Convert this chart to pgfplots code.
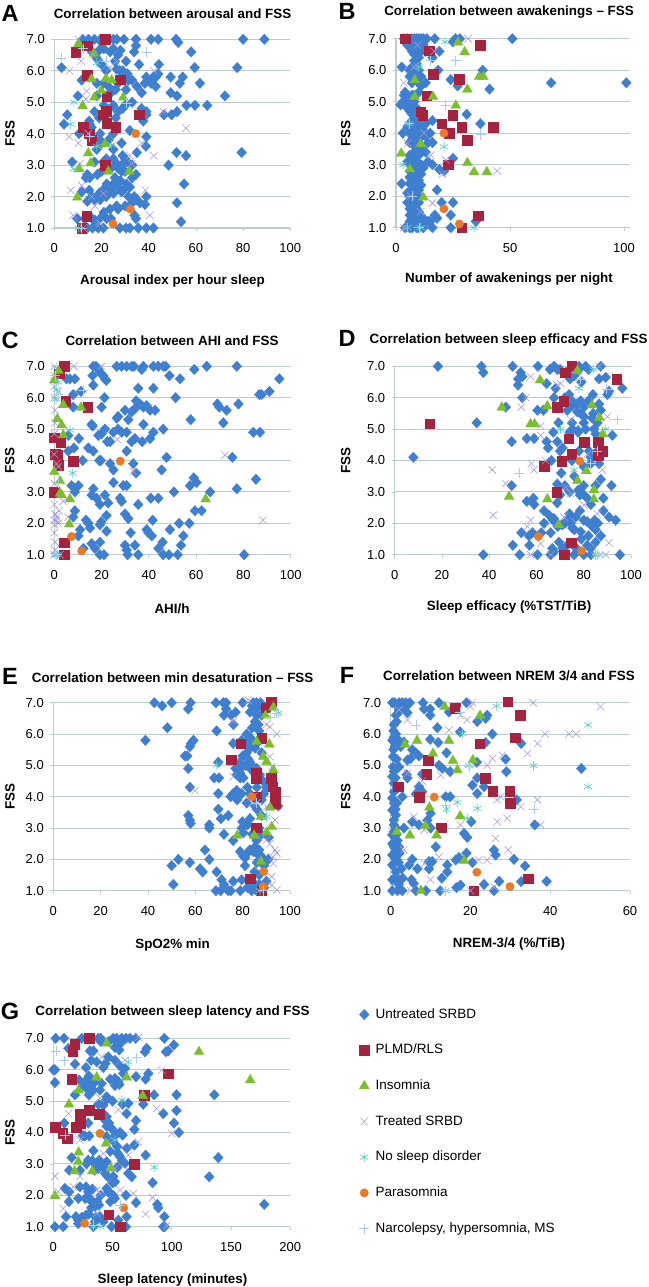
\documentclass[border=0pt]{standalone}
\usepackage{pgfplots}
\pgfplotsset{compat=1.18}
\usepackage{fontspec}
\setmainfont{Liberation Sans}

\definecolor{cblue}{HTML}{3F7FD0}
\definecolor{cred}{HTML}{A5233F}
\definecolor{cgreen}{HTML}{7CBF2C}
\definecolor{clil}{HTML}{A898DC}
\definecolor{ctur}{HTML}{62CDC4}
\definecolor{corg}{HTML}{E87A2A}
\definecolor{cplus}{HTML}{A9CBF0}
\definecolor{cgrid}{HTML}{BBCDD0}

\pgfplotsset{
  every axis title shift=0pt,
  fss/.style={
    scale only axis, clip=false,
    ymin=1, ymax=7, ytick={1,2,3,4,5,6,7},
    axis x line*=bottom, axis y line*=left,
    axis line style={-, draw=cgrid, line width=1.1pt},
    ymajorgrids, grid style={cgrid, line width=1pt},
    tick align=outside, major tick length=3pt,
    tick style={draw=cgrid, line width=.8pt},
    /pgf/number format/assume math mode=true,
    tick label style={font=\fontsize{13}{15}\selectfont},
    xticklabel style={yshift=-9pt},
    yticklabel style={xshift=-3pt, /pgf/number format/.cd, fixed, fixed zerofill, precision=1},
    title style={font=\fontsize{13.4}{15}\bfseries\selectfont, anchor=center},
    xlabel style={font=\fontsize{13.4}{15}\bfseries\selectfont, anchor=center},
    ylabel style={font=\fontsize{13.4}{15}\bfseries\selectfont, anchor=center},
    ylabel={FSS},
  },
  sblue/.style={only marks, mark=diamond*, mark size=5.3pt, mark options={xscale=1.25, draw=cblue, fill=cblue, line width=.2pt}},
  sred/.style={only marks, mark=square*, mark size=4.8pt, mark options={draw=cred, fill=cred, line width=.2pt}},
  sgreen/.style={only marks, mark=triangle*, mark size=5.8pt, mark options={draw=cgreen, fill=cgreen, line width=.2pt}},
  sx/.style={only marks, mark=x, mark size=5.2pt, mark options={draw=clil, line width=.55pt}},
  sast/.style={only marks, mark=asterisk, mark size=4.6pt, mark options={draw=ctur, line width=.7pt}},
  sorg/.style={only marks, mark=*, mark size=4.2pt, mark options={draw=corg, fill=corg}},
  splus/.style={only marks, mark=+, mark size=5pt, mark options={draw=cplus, line width=.6pt}},
}
\newcommand{\panelletter}[3]{\node[font=\fontsize{23.5}{25}\bfseries\selectfont, anchor=center] at (#1pt,-#2pt) {#3};}

\begin{document}
\begin{tikzpicture}
\path[use as bounding box] (0pt,0pt) rectangle (648pt,-1287pt);

% A
\panelletter{10}{13}{A}
\begin{axis}[fss, at={(54.3pt,-228pt)}, anchor=south west, width=236pt, height=188.7pt,
  xmin=0, xmax=100, xtick={0,20,40,60,80,100},
  title={Correlation between arousal and FSS}, title style={at={(axis description cs:.501,1.138)}},
  xlabel={Arousal index per hour sleep}, xlabel style={at={(axis description cs:.501,-.281)}},
  ylabel style={at={(axis description cs:-.188,.5)}}]
\addplot[sblue] coordinates {(14,1)(13,1.3)(16,1.3)(24,1.3)(21,1.5)(27,1.6)(30,1.7)(33,1.8)(35,1.9)(17,1.9)(22,2)(19,2.1)(16,2)(24,2.2)(27,2.3)(32,2.3)(25,2.4)(28,2.5)(33,2.6)(15,2.6)(30,2.8)(27,2.9)(20,2.8)(24,2.9)(17,3.1)(33,3)(22,3.2)(31,3.1)(35,3.4)(25,3.5)(18,3.5)(20,3.7)(23,3.8)(15,4.3)(19,4.5)(26,4.5)(29,4.8)(17,4.7)(27,4.7)(21,4.9)(37,4.8)(33,5)(18,5.2)(24,5.3)(23,5.5)(27,5.6)(33,5.7)(35,5.5)(22,6)(20,6.2)(18,6.4)(25,6.7)(21,6.7)(16,6.6)(15,6.9)(20,6.9)(29,6)(31,5.9)(39,5.8)(41,5.6)(43,5.5)(12,7)(14.5,7)(17,7)(19.5,7)(23,7)(25,7)(26.5,7)(29.5,7)(34.6,7)(41,7)(44,7)(51.6,7)(80,7)(89,7)(52.5,6.9)(33.8,6.6)(34.6,6.8)(58,6.6)(19,6.65)(23.6,6.6)(28,6.65)(27,6.5)(25.7,6.3)(30.4,6.3)(44.3,6.2)(35.9,6.2)(3.1,6.1)(59.5,6.1)(77.5,6.1)(27.8,6)(26.4,6.05)(42,5.8)(44,5.9)(40.5,5.7)(43,5.8)(38.4,5.6)(49.3,5.8)(54.4,5.8)(53.2,5.6)(61.7,5.6)(31.4,5.7)(11.6,5.7)(18,5.6)(20.8,5.6)(26,5.4)(30.4,5.4)(37,5.3)(49.3,5.3)(52,5.2)(72.3,5.2)(10,5.2)(22.2,5.2)(56,4.9)(59.6,4.9)(64.8,4.9)(30,4.9)(25,4.9)(22.9,4.75)(46.5,4.6)(49.7,4.6)(52,4.7)(39,4.7)(39,4.6)(37.7,4.4)(5.5,4.6)(4.1,4.3)(14.8,4.4)(15.8,4.2)(32,4.1)(25,4)(10.5,4)(19.4,4)(39,3.9)(19.4,3.8)(38.8,3.6)(28.5,3.7)(79.4,3.4)(51.8,3.4)(55.8,3.3)(48.4,3)(7.6,3.1)(29,3.3)(30,3.2)(25,3.2)(20.8,3.1)(28.5,3)(26.4,3.05)(14,2.7)(13.4,2.6)(18.2,2.7)(34.6,2.7)(28.5,2.8)(25.7,2.6)(22.2,2.4)(30.6,2.4)(29.9,2.25)(55,2.4)(11.6,2.15)(14.8,2.2)(20.5,2.2)(25,2.1)(28.5,2.15)(31.4,2)(33.9,2)(39,2)(14,1.85)(19.4,1.9)(52,1.8)(36.3,1.8)(38.4,1.75)(26.4,1.7)(23.6,1.6)(34,1.4)(34.6,1.3)(53.7,1.2)(9.7,1.3)(19.4,1.3)(22.2,1.3)(17.2,1.25)(16.2,1)(18.6,1)(20.8,1)(27.8,1)(30.4,1)(32,1)(35.6,1)(39,1)(42,1)(12.3,1)};
\addplot[sred] coordinates {(9,6.6)(13.8,6.8)(21.5,7)(14,5.87)(28,5.72)(22.2,5.18)(21.9,4.72)(20.8,4.6)(35.9,4.6)(22.2,4.33)(26,4.2)(12.1,4.2)(14.7,4)(15.8,3.8)(21.6,3)(13.7,1.38)(11.6,1)};
\addplot[sgreen] coordinates {(10.2,6.85)(16.7,6.55)(15.8,5.73)(21.9,5.75)(24.3,5.7)(19.8,5.37)(29.2,5.15)(17,5.15)(12,4.88)(21.5,3.67)(14.4,3.38)(15.4,3.06)(10.5,2.88)(22.9,2.8)(31.8,2.8)(9.7,1.97)};
\addplot[sx] coordinates {(10.2,7)(6.4,6)(11.3,6.3)(13.7,5.35)(13.4,5.1)(42.2,6)(46.2,4.7)(55.8,4.17)(6.4,3.9)(10.2,3.7)(42.2,3.3)(10.9,3.05)(32,3.3)(32.8,3.05)(37,3.7)(38.5,2.2)(7,2.2)(11.6,2.35)(15.8,2)(17.2,1.7)(40.5,1.4)(8,1.4)(19.4,1.15)(12.3,1)(20.8,2.1)(26.4,6.3)(16.5,6.5)(23.6,6.1)(14.4,4)};
\addplot[sast] coordinates {(7,4.3)(8.3,5)(18,6.25)(24.3,3.65)(18,3.6)(8.3,2.88)(10.2,1)};
\addplot[sorg] coordinates {(34.5,4)(32.2,1.6)(24.9,1.13)};
\addplot[splus] coordinates {(2.8,6.4)(39.1,6.6)(12.3,6.7)(21.9,6.3)(30.6,4.97)(15,3.9)(11.6,1)};
\end{axis}

% B
\panelletter{347}{11}{B}
\begin{axis}[fss, at={(396pt,-227.7pt)}, anchor=south west, width=234pt, height=189pt,
  xmin=0, xmax=102.6, xtick={0,50,100},
  title={Correlation between awakenings -- FSS}, title style={at={(axis description cs:.483,1.141)}},
  xlabel={Number of awakenings per night}, xlabel style={at={(axis description cs:.483,-.273)}},
  ylabel style={at={(axis description cs:-.215,.5)}}]
\addplot[sblue] coordinates {(4,6.9)(6,6.9)(9,6.9)(12,6.8)(5,6.8)(10,6.7)(7,6.6)(9,6.5)(8,6.5)(10,6.4)(9,6.1)(8,6)(6,6)(9,5.7)(7,5.6)(11,5.5)(4,5.3)(5,5.2)(7,5.2)(8,5.2)(5,5)(3,5)(6,4.9)(9,4.8)(6,4.7)(9,4.6)(10,4.5)(7,4.4)(11,4.3)(5,4.2)(7,4.1)(11,3.9)(13,3.9)(7,3.8)(14,3.7)(8,3.6)(10,3.5)(8,3.4)(9,3.1)(7,3)(11,3)(12,2.9)(8,2.8)(11,2.7)(7,2.6)(8,2.4)(10,2.2)(9,2.1)(7,2)(9,1.9)(6,1.8)(8,1.7)(6,1.6)(7,1.5)(8,1.5)(10,1.5)(7,1.3)(9,1.3)(11,1.3)(7,1.1)(10,1)(14,1.2)(6,1)(17,1.4)(3.5,7)(5,7)(7,7)(8,7)(9,7)(10,7)(11,7)(12,7)(13.5,7)(17,7)(26,7)(51,7)(28,7)(25,6.9)(10,6.85)(7,6.8)(8,6.7)(11,6.6)(13,6.6)(19,6.6)(16,6.4)(8,6.3)(9,6.2)(7,6.1)(2.5,6.1)(18.5,6)(38,6)(10,6)(8,5.9)(6,5.8)(11,5.8)(24,5.7)(27,5.7)(10,5.6)(13,5.6)(27,5.5)(68,5.6)(101,5.6)(41,5.4)(10,5.3)(3.5,5.2)(6,5.1)(8,5)(2,4.9)(4,4.9)(7,4.9)(5,4.8)(8,4.7)(10,4.7)(7,4.6)(31,4.6)(12,4.5)(9,4.4)(16,4.4)(37,4.3)(6,4.3)(13,4.3)(8,4.2)(10,4.1)(12,4.1)(3,4)(6,4)(9,4)(12,4)(15,4)(23,4)(8,3.9)(10,3.8)(16,3.7)(6,3.7)(9,3.6)(11,3.5)(13,3.4)(6,3.3)(8,3.2)(10,3.3)(25,3.2)(5,3.1)(8,3)(14,3.1)(16,3)(7,2.9)(19,2.85)(21,2.8)(6,2.8)(10,2.8)(9,2.7)(6,2.6)(10,2.5)(8,2.5)(2.5,2.4)(6,2.4)(9,2.3)(11,2.35)(7,2.2)(18,2.2)(5,2.1)(8,2.1)(10,2)(6,2)(8,1.9)(10,1.8)(5,1.8)(7,1.7)(25,1.8)(20,1.8)(9,1.6)(24,1.4)(6,1.4)(8,1.3)(10,1.4)(12,1.3)(18,1.3)(15,1.2)(35,1.2)(6,1.2)(9,1.1)(11,1.1)(7,1)(9,1)(12,1)(16,1)(24,1)(4,1)(11,1.2)};
\addplot[sred] coordinates {(4.1,7)(14.6,6.62)(36.8,6.8)(16.2,5.88)(27.6,5.72)(13.5,5.2)(10.8,4.68)(11.7,4.58)(24.9,4.58)(20,4.31)(28.7,4.2)(42.7,4.19)(23.2,4)(31.3,3.78)(22.8,3)(36,1.38)(28.8,1)};
\addplot[sgreen] coordinates {(27.2,6.88)(30.1,6.58)(8.2,5.69)(36.4,5.79)(38.3,5.79)(31.3,5.39)(8.2,5.16)(16.2,5.16)(26.2,4.88)(10.8,3.66)(2.3,3.36)(31.3,3.06)(6.1,2.86)(34.2,2.77)(39.8,2.77)(12,1.96)};
\addplot[sx] coordinates {(31.6,7)(44.4,2.8)(20.3,2.7)(16,1.78)(10.8,1.5)(3.5,1)(15.2,3.3)(21.8,3.15)(5,3.68)(3.5,5.6)(7.9,6.1)(9.4,6.8)(16.7,6.6)(6.4,2)(12.3,4)};
\addplot[sast] coordinates {(21.5,6.9)(21,3.57)(3.2,3)(34.2,1)(5,1)(10.8,1)(5.7,4.3)(10,6.1)};
\addplot[sorg] coordinates {(21,4)(21,1.6)(27.8,1.12)};
\addplot[splus] coordinates {(26.2,6.3)(21.8,4.9)(37.1,3.95)(7.2,2)(15.2,6.3)(5.7,4.3)(10,1)};
\end{axis}

% C
\panelletter{10}{340}{C}
\begin{axis}[fss, at={(54.3pt,-554.7pt)}, anchor=south west, width=236.4pt, height=188.4pt,
  xmin=0, xmax=100, xtick={0,20,40,60,80,100},
  title={Correlation between AHI and FSS}, title style={at={(axis description cs:.498,1.136)}},
  xlabel={AHI/h}, xlabel style={at={(axis description cs:.498,-.285)}},
  ylabel style={at={(axis description cs:-.188,.5)}}]
\addplot[sblue] coordinates {(16.5,7)(17.6,7)(26.4,7)(28.5,7)(30.6,7)(32.7,7)(33.7,7)(37.7,7)(41.9,7)(44,7)(46.1,7)(47.1,7)(64.5,7)(77.2,7)(37,6.9)(59.2,6.9)(18.6,6.9)(19.3,6.8)(20.7,6.7)(16.2,6.7)(21.4,6.6)(22,6.55)(48.7,6.7)(53.2,6.6)(95.2,6.6)(16.5,6.4)(35.5,6.3)(41.9,6.3)(5.2,6.6)(6.6,6.6)(8.7,6.6)(11.3,6.2)(8,6.1)(91,6.2)(86.7,6.1)(87.7,6.1)(21.2,6)(51.3,6)(69,5.8)(69.8,5.7)(77.9,5.8)(72.9,5.6)(34.6,5.9)(36.2,5.8)(39,5.75)(37.7,5.7)(34.1,5.65)(29.9,5.6)(32.7,5.55)(40.5,5.6)(42.6,5.6)(20,5.7)(8,5.7)(27,5.4)(26.4,5.35)(31.3,5.3)(57.7,5.3)(71.5,5.2)(15.8,5.15)(16.2,5.1)(37.7,5.15)(21.4,5)(20,4.85)(18.6,4.8)(25,4.9)(27,5)(28.5,4.9)(30.6,4.9)(46.1,5)(41.9,4.9)(84.2,4.9)(87,4.9)(10.4,4.7)(5.9,4.8)(34.1,4.7)(32.7,4.6)(40.5,4.7)(37.2,4.6)(22.4,4.6)(23.6,4.6)(8.3,4.4)(14.4,4.4)(16.5,4.3)(30.6,4.3)(5.9,4.3)(47.5,4.1)(75.3,4.1)(12,4)(19,4)(19.7,4)(23.6,3.9)(33.4,3.9)(25,3.7)(34.6,3.6)(45.4,3.7)(85.3,3.4)(59,3.45)(60.2,3.3)(25,3.3)(29.2,3.2)(30.6,3.2)(57.4,3.2)(10.2,3.2)(7.3,3.2)(16.5,3.1)(77.2,3.1)(65.9,3)(50.6,3)(8.7,3)(15.8,2.9)(21.4,2.9)(17.9,2.8)(27.8,2.8)(40.8,2.8)(44,2.8)(28.5,2.7)(22.8,2.65)(35.5,2.6)(19.3,2.6)(8.7,2.4)(59.5,2.4)(62.3,2.4)(29.9,2.3)(22.1,2.25)(8,2.2)(31.3,2.15)(13.4,2.1)(41.6,2.1)(19.9,2.05)(57.1,2)(52.8,2)(14.4,2)(19.3,1.95)(15.1,1.85)(48.9,1.8)(39.1,1.8)(22.1,1.75)(32.3,1.7)(39.8,1.7)(54.6,1.6)(41.2,1.6)(10.9,1.8)(45.8,1.4)(19.3,1.4)(15.8,1.35)(29.9,1.3)(53.6,1.3)(34.1,1.3)(10.2,1.6)(44,1.2)(17.2,1.2)(30.6,1.15)(12.3,1.2)(19.3,1)(21,1)(31,1)(35.5,1)(46.1,1)(48.5,1)(52.2,1)(80.3,1)};
\addplot[sred] coordinates {(4.2,7)(2.1,6.77)(4.8,5.9)(14.1,5.71)(0,4.73)(2.7,4.58)(0.3,4.2)(1.4,4.17)(8,3.98)(1.7,3.85)(0,3)(4.2,1.38)(4.2,1)};
\addplot[sgreen] coordinates {(1.7,6.86)(0,6.56)(3.8,5.77)(11.3,5.69)(1.3,5.32)(3.1,5.13)(3.8,4.81)(0,3.64)(2.4,3.34)(2.4,2.95)(6.6,2.77)(64,2.77)(6.3,1.97)(3.1,2.9)};
\addplot[sx] coordinates {(0,7)(8.3,7)(20,7)(26.7,4.67)(72.2,4.17)(88.2,2.1)(33.4,3.65)(0,6)(0.3,5.6)(0.3,5.2)(0,3.27)(0.3,2.3)(0,2.1)(1,2.1)(0,1.95)(1.7,2)(0.3,1.4)(0.3,1.15)(0,1)(2.4,1)(3.8,2.7)(1,3.9)(1.7,3.8)(0,6.7)(2.1,2.4)(0,2.6)(1,2.2)(0,1.7)(5.9,2.2)(1.7,6.2)(0,6.35)(0,4.85)(0,4.2)};
\addplot[sast] coordinates {(7.8,3.6)(6.6,4.97)(1,6.25)(0.7,5.95)(1,1)(0.3,1)(1.7,6.5)};
\addplot[sorg] coordinates {(27.9,3.98)(7.3,1.58)(11.6,1.12)};
\addplot[splus] coordinates {(12.3,6.25)(1.7,6.1)(0.3,6.7)(1,1)(1.7,3.27)};
\end{axis}

% D
\panelletter{347}{338}{D}
\begin{axis}[fss, at={(394.7pt,-554.7pt)}, anchor=south west, width=236.3pt, height=188.4pt,
  xmin=0, xmax=100, xtick={0,20,40,60,80,100},
  title={Correlation between sleep efficacy and FSS}, title style={at={(axis description cs:.482,1.139)}},
  xlabel={Sleep efficacy (\%TST/TiB)}, xlabel style={at={(axis description cs:.484,-.279)}},
  ylabel style={at={(axis description cs:-.207,.5)}}]
\addplot[sblue] coordinates {(70,6.9)(74,6.9)(78,6.9)(82,6.9)(76,6.7)(79,6.5)(72,6)(75,5.9)(82,5.9)(73,5.6)(84,5.5)(75,5.2)(80,5.2)(74,4.9)(71,4.4)(78,4.3)(83,4.1)(75,4)(80,3.8)(76,3.5)(72,3.2)(80,3.2)(74,3)(70,2.9)(83,2.6)(74,2.3)(80,2.1)(72,2)(69,1.9)(76,1.8)(79,1.5)(82,1.6)(73,1.3)(77,1.2)(85,1.4)(71,1.2)(86,2)(67,2.1)(62,1.7)(66,1.7)(18.3,7)(36.7,7)(37.5,6.8)(49.9,7)(60.6,7)(67.4,7)(75.2,7)(78,7)(80.8,7)(87.2,7)(65.7,6.9)(68.8,6.9)(72.4,6.8)(53.3,6.8)(54,6.67)(52.3,6.6)(52.2,6.4)(89.3,6.65)(86.5,6.6)(74.2,6.6)(96.3,6.3)(64.3,6.45)(68.1,6.3)(90.7,6.2)(90,6.1)(73.8,6.1)(83.9,6.1)(54,6)(67.4,6)(78.7,5.9)(77,5.8)(86.5,5.8)(75.2,5.75)(80.1,5.7)(47,5.7)(60.4,5.6)(62.9,5.6)(87.2,5.6)(77.3,5.55)(78.7,5.5)(80.1,5.4)(83.6,5.35)(69.3,5.2)(34.7,5.2)(85.8,5.2)(84.3,5)(75.2,5)(77.6,4.95)(80.8,5)(77.6,4.9)(67.1,4.9)(85,4.85)(92.1,4.8)(55.9,4.7)(59,4.7)(49.5,4.6)(64.3,4.6)(68.8,4.6)(64.9,4.4)(85.8,4.3)(70,4.3)(82.2,4.3)(7.9,4.1)(66.3,4)(86.5,3.9)(82.9,3.9)(70.5,3.6)(87.2,3.4)(68.8,3.25)(85,3.2)(49.5,3.2)(91.7,3.2)(77.6,3.05)(79.4,2.95)(58.7,2.8)(78.4,2.9)(88.3,2.8)(55.9,2.7)(81.5,2.8)(59,2.6)(68.8,2.65)(78.4,2.4)(63.2,2.4)(88.3,2.4)(65.4,2.25)(76.6,2.2)(90.7,2.2)(93.5,2.1)(67.4,2.15)(84.6,2.1)(73.1,2.1)(81.5,2.05)(63.2,2)(74.5,2)(83.6,1.9)(70.9,1.95)(75.2,1.85)(85,1.8)(78.7,1.73)(53.6,1.7)(58.3,1.7)(87.2,1.6)(56.8,1.6)(69.5,1.4)(57,1.3)(50,1.3)(81.5,1.3)(66.7,1.2)(76.2,1.25)(82.9,1.2)(67.4,1.1)(37.5,1)(52.9,1)(60.4,1)(95.3,1)(75.9,1)(80,1)(83,1)(66,1)};
\addplot[sred] coordinates {(74.8,7.02)(72.2,6.8)(93.9,6.6)(71.4,5.9)(68.8,5.7)(14.7,5.18)(73.6,4.7)(80.1,4.58)(86,4.58)(88,4.3)(86,4.17)(74.8,4.2)(70.7,3.98)(63.2,3.82)(68.5,3)(74.6,1.39)(71.8,1)};
\addplot[sgreen] coordinates {(61.5,6.56)(77.3,6.86)(45.3,5.69)(64.6,5.73)(83.4,5.76)(86.6,5.36)(57.5,5.16)(59.2,5.16)(88,4.84)(81.1,3.67)(77.3,3.36)(84.3,3.06)(84.3,2.77)(64.6,2.77)(48.4,2.85)(69.4,1.95)};
\addplot[sx] coordinates {(86.5,7)(57.5,6.67)(70.2,6.45)(55.5,6)(53.6,5.7)(61.7,5.1)(41.3,3.7)(41.7,2.26)(47,3.27)(57.8,3.9)(59,3.7)(63.9,4)(90,5.4)(68.8,6.4)(74.5,5.3)(61.8,4.8)(56.1,1.9)(57.5,2.1)(90.7,1.38)(89.3,1)(87.9,3.7)(72.4,3.15)(74.5,2.95)(80.1,2.58)(57.5,1)(66.1,1)(61.8,1.35)(71.6,2.2)(85.8,2.3)(81.5,4.2)};
\addplot[sast] coordinates {(78,6.3)(84,6.9)(70.2,5)(85,1)(86.5,1)(75.9,3.7)(89.3,5)};
\addplot[sorg] coordinates {(78.3,3.98)(60.8,1.58)(79.1,1.12)};
\addplot[splus] coordinates {(94.2,5.3)(52.6,3.6)(78.7,6.6)(89.7,6.27)(85.8,4.3)(82.9,3.9)(85.8,1)};
\end{axis}

% E
\panelletter{10}{676}{E}
\begin{axis}[fss, at={(53.3pt,-890.7pt)}, anchor=south west, width=236.7pt, height=188pt,
  xmin=0, xmax=100, xtick={0,20,40,60,80,100},
  title={Correlation between min desaturation -- FSS}, title style={at={(axis description cs:.504,1.135)}},
  xlabel={SpO2\% min}, xlabel style={at={(axis description cs:.504,-.288)}},
  ylabel style={at={(axis description cs:-.183,.5)}}]
\addplot[sblue] coordinates {(84,6.9)(86,6.8)(88,6.6)(84,6.2)(87,6.1)(84,5.8)(86,5.7)(88,5.4)(80,5.3)(84,5)(86,4.9)(77,4.9)(79,4.6)(86,4.3)(89,4.1)(83,4.1)(86,3.6)(88,3.4)(82,3.1)(87,3)(88,2.8)(84,2.8)(83,2.3)(87,2.3)(82,2.2)(86,1.9)(89,1.8)(85,1.6)(87,1.5)(84,1.3)(87,1.2)(89,1.1)(82,1.1)(86,1.1)(88,3.9)(90,4.3)(89,2)(91,2.7)(42.7,7)(46,6.9)(50,7)(58,7)(57,6.8)(48.2,6.2)(38.9,5.8)(59.2,5.8)(69,6.1)(68.7,7)(71.8,7)(73,7)(80,7)(84.5,7)(85.9,7)(87.6,7)(73,6.8)(72.1,6.6)(75.1,6.6)(77,6.7)(76.1,6.3)(83.1,6.7)(85.9,6.6)(85.2,6.4)(86.6,6.3)(81.7,6)(83.1,5.9)(79.6,5.8)(76,5.7)(81.7,5.7)(83.1,5.55)(85.2,5.55)(57.7,5.6)(58.2,5.7)(55.6,5.3)(56.6,5.3)(69.7,5.1)(81.7,5.4)(82.4,5.2)(83.1,5.1)(78.9,5.1)(57,4.9)(78.2,5)(79.2,4.9)(81.4,5)(83.8,4.85)(77.5,4.7)(78.9,4.75)(68,4.6)(70,4.6)(80.3,4.6)(88.7,4.5)(82,4.3)(57.7,4.3)(87.3,4.7)(69.7,4.1)(77.5,4.2)(74.9,4)(79.6,4.1)(76,4.1)(77.7,3.9)(81.7,3.8)(85.2,3.7)(95,3.7)(69.7,3.6)(73.9,3.4)(57,3.4)(70.8,3.3)(57.7,3.25)(58,3.15)(83.1,3.3)(79.9,3.2)(65.9,3.1)(65.9,3)(72.1,2.8)(79.6,3)(76,2.6)(80.3,2.85)(64.1,2.3)(85.9,2.6)(85.2,2.4)(84.5,2.25)(78.9,2.25)(80.3,2.1)(85.9,2.2)(81,2.05)(87.3,2.15)(65.9,2)(52.8,2)(50,1.8)(57.7,1.9)(81,1.8)(62,1.7)(63.1,1.6)(69,1.6)(90.8,2)(71.1,1.35)(76,1.3)(79.6,1.35)(83.1,1.25)(50.7,1.2)(72.1,1.2)(68.7,1)(70.7,1)(73.9,1)(75,1)(79,1)(83.8,1)(85.9,1)(90,1.3)};
\addplot[sred] coordinates {(92,7.03)(89.7,6.85)(88,5.88)(79.2,5.7)(75,5.19)(85.6,4.75)(85.6,4.59)(92,4.59)(92.7,4.32)(93.7,4.16)(85.9,4)(93.7,4)(93.7,3.79)(85.6,3.02)(83.1,1.39)(88,1)};
\addplot[sgreen] coordinates {(93,6.85)(89.7,6.59)(85.9,5.76)(91.3,5.67)(88.7,5.28)(90.1,5.12)(93,4.85)(91.5,3.66)(87.7,3.36)(92.3,3.04)(90.1,2.86)(84.8,2.76)(77.7,2.76)(87.7,1.93)};
\addplot[sx] coordinates {(59.9,4.19)(94.4,6)(91.5,6.23)(90,6.3)(91.5,5.28)(92.3,4.96)(76,4.64)(93.7,3.25)(90.1,2.62)(93.7,2.3)(92.9,2.08)(94.4,2.2)(92.9,1.87)(92.3,1.45)(94.4,1.02)(92.3,1.18)(84.5,4)(85.9,3.8)(90.1,3.68)(76,6.4)(82.4,7.08)(91.5,2.5)};
\addplot[sast] coordinates {(69,5.01)(95,6.66)(87.3,1)(90.1,3.36)};
\addplot[sorg] coordinates {(83.9,4)(88.9,1.61)(88.7,1.13)};
\addplot[splus] coordinates {(94.4,6.66)(91.5,6.55)(88.7,1)(85.9,3.8)};
\end{axis}

% F
\panelletter{347}{675}{F}
\begin{axis}[fss, at={(390.7pt,-890.7pt)}, anchor=south west, width=239.3pt, height=188pt,
  xmin=0, xmax=60, xtick={0,20,40,60},
  title={Correlation between NREM 3/4 and FSS}, title style={at={(axis description cs:.494,1.142)}},
  xlabel={NREM-3/4 (\%/TiB)}, xlabel style={at={(axis description cs:.494,-.283)}},
  ylabel style={at={(axis description cs:-.188,.5)}}]
\addplot[sblue] coordinates {(3,6.9)(2,6.7)(1.5,6.4)(1,5.6)(2.5,5.6)(1.5,5.2)(1.2,4.6)(2,4.3)(1.6,3.8)(1.2,3.6)(0.8,3.1)(1.5,2.8)(2.2,2.2)(1.4,2)(2,1.9)(1.2,1.4)(2,1.2)(3,1.4)(2,6.85)(4,6.9)(0.4,7)(1,7)(2.1,7)(2.9,7)(3.8,7)(4.8,7)(8.1,7)(12.1,7)(19,7)(2.5,6.87)(3.3,6.8)(2.1,6.77)(4.2,6.68)(1.3,6.6)(8.4,6.8)(9.9,6.8)(9.9,6.6)(14.6,6.7)(24.2,6.6)(23.8,6.5)(21.7,6.4)(11.7,6.2)(17.4,6.07)(25.5,6)(0.8,6.3)(0.7,6.1)(1.3,6)(0.8,5.9)(0.4,5.8)(1.8,5.83)(1.3,5.65)(0.7,5.5)(3.3,5.75)(9.9,5.83)(11.9,5.73)(23.8,5.73)(32.7,5.7)(5.4,5.5)(6.3,5.4)(7.1,5.3)(14,5.4)(0.6,5.28)(5,5.22)(4.2,5.17)(28.8,5.2)(21.6,5.1)(12.1,5)(13,4.9)(14.9,4.8)(29,4.8)(47.8,4.9)(0.6,4.95)(2.1,4.95)(0.8,4.8)(4,4.7)(4.2,4.6)(0.4,4.64)(7.9,4.72)(21.7,4.6)(20.5,4.37)(23.4,4.32)(7.1,4.32)(0.8,4.43)(7.9,4.16)(21.7,4.1)(0.8,4.16)(2.9,4)(13.8,4)(14.9,4)(6.3,4.09)(31.6,3.9)(0.4,3.95)(0.8,3.8)(0.4,3.57)(1.3,3.41)(10,3.47)(0.8,3.25)(5.4,3.2)(9.2,3.25)(1.3,3)(7.1,3.1)(20.2,3.2)(36.1,3.1)(3.3,3)(10,3)(0.8,2.88)(0.4,2.78)(18.4,2.83)(19.2,2.7)(1.7,2.6)(0.4,2.5)(2.1,2.4)(0.8,2.4)(11.3,2.4)(1.3,2.25)(25.9,2.3)(26.3,2.14)(19,2.2)(0.4,2.14)(30.9,2)(5.4,2)(17.1,2.06)(16.3,1.98)(20.5,1.9)(9.6,1.93)(10.4,1.93)(0.4,1.82)(4.6,1.82)(14.2,1.82)(9.6,1.7)(2.7,1.7)(6.7,1.7)(33.7,1.79)(14.2,1.6)(1.3,1.6)(12.8,1.4)(0.4,1.35)(2.1,1.35)(5.2,1.35)(27.2,1.3)(39.1,1.3)(32.7,1.29)(5.8,1.23)(23.4,1.2)(16.5,1.1)(17.5,1.18)(0.4,1)(1.7,1)(2.9,1)(6.3,1)(8.8,1)(12.4,1)(25.9,1)};
\addplot[sred] coordinates {(29.3,7.03)(16.1,6.82)(32.4,6.6)(31.2,5.89)(22.3,5.7)(9.4,5.17)(9,4.72)(23.7,4.59)(1.8,4.32)(25.5,4.18)(29.8,4.18)(7.1,3.99)(29.9,3.79)(12.7,3.01)(34.4,1.39)(20.8,1)};
\addplot[sgreen] coordinates {(13.5,6.87)(22.4,6.59)(3.6,5.67)(6.6,5.79)(14.6,5.79)(10.6,5.38)(15.6,5.15)(20.6,5.17)(16.7,4.85)(9.7,3.66)(17.4,3.38)(8.7,3.07)(1.5,2.88)(4.8,2.77)(11.5,2.77)(18.4,1.96)(7.6,1)};
\addplot[sx] coordinates {(35.7,7)(52.6,6.87)(20.5,7)(38.7,6)(44.7,6)(46.5,6)(36.8,5.7)(34.3,5.38)(28,5.33)(25.5,5.22)(24.2,5)(36.8,3.9)(32.6,3.68)(29.2,3.31)(26.7,3.2)(37.6,3.1)(26.3,2.67)(29.5,2.3)(26.7,3.9)(27.6,4)(14.6,6.13)(4.2,6.45)(19.2,6.45)(20,6.87)(17.5,6.6)(24.2,1.98)(22,1.98)(12.1,2.08)(8.4,1.87)(10,1.35)(5,1)(25.9,1.12)(20,1)(3.3,2.3)(12.5,4.69)(8.4,2.94)(17.5,3.1)(5.8,3.36)(7.9,4.5)(4.2,4.74)(2.1,6.77)};
\addplot[sast] coordinates {(26.5,6.89)(49.5,6.29)(35.8,4.99)(49.5,4.32)(16.7,3.82)(14,3.6)(21.7,3.63)(19.6,4.99)(19.2,3.31)(13.8,1)(18,6.02)};
\addplot[sorg] coordinates {(10.9,3.99)(21.6,1.59)(29.9,1.13)};
\addplot[splus] coordinates {(6.4,6.29)(35.9,3.6)(13.8,3.73)(19.6,4.96)(17.5,6.7)(13.8,1)};
\end{axis}

% G
\panelletter{10}{1011.7}{G}
\begin{axis}[fss, at={(53.3pt,-1226.7pt)}, anchor=south west, width=237pt, height=188.4pt,
  xmin=0, xmax=200, xtick={0,50,100,150,200},
  title={Correlation between sleep latency and FSS}, title style={at={(axis description cs:.503,1.138)}},
  xlabel={Sleep latency (minutes)}, xlabel style={at={(axis description cs:.503,-.283)}},
  ylabel style={at={(axis description cs:-.183,.5)}},
  legend style={at={(axis description cs:1.29,1.167)}, anchor=north west, draw=none, fill=none,
    font=\fontsize{13.5}{15}\selectfont, row sep=20.67pt, inner sep=0pt,
    nodes={inner sep=1pt, text height=10pt, text depth=3pt},
    /tikz/every odd column/.append style={column sep=5.4pt}},
  legend cell align=left]
\addplot[sblue] coordinates {(30,5.8)(25,5.5)(30,5.2)(35,5.6)(38,4.9)(42,4.6)(45,4.5)(47,4.3)(52,3.9)(55,3.3)(48,3.4)(33,3.1)(28,3)(35,2.8)(42,2.9)(46,2.6)(50,2.4)(47,2.1)(40,2)(33,2.2)(37,1.8)(32,1.6)(30,1.4)(24,1.3)(36,1.3)(48,1.8)(27,1.9)(25,3.9)(58,3.1)(40,6.9)(47,6.9)(58,6.9)(44,6.2)(52,5.5)(48,5.7)(32,6.3)(62,3.5)(21,1.1)(2,7)(9,7)(24,7)(38,7)(40,7)(50.6,7)(53.5,7)(57.7,7)(61.3,7)(64.7,7)(69.5,7)(93.7,7)(12.7,6.68)(52,6.71)(56.3,6.84)(101.8,6.79)(55.7,6.63)(78.8,6.68)(77.4,6.57)(95,6.57)(97,6.6)(30.9,6.6)(33.8,6.6)(46.4,6.41)(36.6,6.25)(18.3,6.18)(27.6,6.07)(42.2,6.07)(52,6.3)(56.3,6.12)(60.5,6.04)(0,6)(1.4,6)(59,5.88)(80.2,5.88)(69.8,5.78)(77.9,5.7)(1.4,5.59)(21.9,5.67)(26.7,5.62)(29.5,5.67)(32.3,5.56)(52,5.72)(54.9,5.62)(55.7,5.53)(28.1,5.4)(33.8,5.35)(18.3,5.2)(40.8,5.56)(39.4,5.35)(85,5.2)(104,5.2)(135.9,5.2)(45,5.14)(75.9,4.9)(50,5)(43.6,5)(42.2,4.87)(58.5,4.9)(63.3,4.93)(104,4.7)(92.8,4.6)(61.9,4.6)(69.8,4.38)(101.8,4.3)(29.5,4.3)(9.3,4.3)(43.6,4.4)(45,4.2)(50,4.1)(68.4,4.1)(106,4)(56.3,4)(58.5,3.92)(26.7,3.89)(30.4,3.89)(45,3.87)(50.6,3.73)(68.4,3.6)(54,3.55)(54,3.36)(77.9,3.28)(139.2,3.2)(33.8,3.42)(15.5,3.2)(56.3,3.23)(29.5,3.12)(38.8,3.12)(45,3.07)(60.5,3.02)(36,2.96)(38,2.86)(54,2.89)(13.5,2.8)(22.5,2.8)(43.6,2.7)(63.3,2.7)(66.1,2.59)(131.6,2.59)(50.6,2.6)(52,2.43)(83.8,2.4)(22.5,2.27)(27.6,2.27)(9.8,2.22)(45,2.22)(13.5,2.11)(29.5,2.11)(46.4,2.11)(50.6,2)(61.3,2)(21.1,1.9)(52,1.9)(30.9,1.9)(13.2,1.8)(32.3,1.8)(69.8,1.77)(87.8,1.71)(178,1.71)(88.6,1.6)(35.2,1.64)(38.5,1.69)(10.7,1.32)(19.1,1.32)(27.6,1.37)(39.4,1.32)(61.9,1.32)(93.7,1.32)(21.1,1.21)(54.9,1.21)(35.2,1.16)(42.2,1.16)(1.4,1)(8.4,1)(49.2,1)(61.3,1)(92.8,1)(94,1)(33.8,1)};
\addplot[sred] coordinates {(30.1,7)(18,6.82)(16.3,6.6)(97,5.88)(15.5,5.7)(76.5,5.19)(30.4,4.72)(22.8,4.59)(38.5,4.59)(22.5,4.29)(19.1,4.18)(1.4,4.18)(7.9,3.99)(11.8,3.81)(68.1,3)(46.7,1.39)(56.5,1)};
\addplot[sgreen] coordinates {(45,6.84)(122.9,6.57)(166.2,5.67)(36.6,5.76)(61.9,5.76)(21.4,5.35)(13.2,4.9)(75.4,5.17)(44.4,3.65)(21.4,3.37)(21.1,3.07)(48.7,2.86)(32.9,2.77)(18,2.77)(1.4,1.98)};
\addplot[sx] coordinates {(71.7,7.03)(91.4,5.99)(60.5,6.3)(40.8,6.41)(87.2,4.77)(99.9,3.97)(71.7,3.7)(63.3,3.28)(1.4,2.61)(4.2,2.11)(8.4,1.58)(12.7,4.6)(22.5,3.76)(36.6,2.17)(39.4,2.06)(54.9,4.72)(39.4,5.09)(83.8,1.93)(77.9,1.4)(95.6,1.03)(67.5,2.06)(42.2,3.33)(56.3,2.17)(52,2.86)(16.9,2.27)(22.5,2.6)(36.6,1.42)};
\addplot[sast] coordinates {(63.3,6.25)(57.7,5.03)(85.2,2.89)(52,3.76)(33.8,1)(39.4,1)};
\addplot[sorg] coordinates {(39.4,3.97)(59.4,1.6)(26.4,1.11)};
\addplot[splus] coordinates {(2.2,6.6)(9,6.29)(70.3,6.38)(56.3,1.69)(9.8,3.92)(33.8,1.05)};
\legend{Untreated SRBD, PLMD/RLS, Insomnia, Treated SRBD, No sleep disorder, Parasomnia, {Narcolepsy, hypersomnia, MS}}
\end{axis}
\end{tikzpicture}
\end{document}
